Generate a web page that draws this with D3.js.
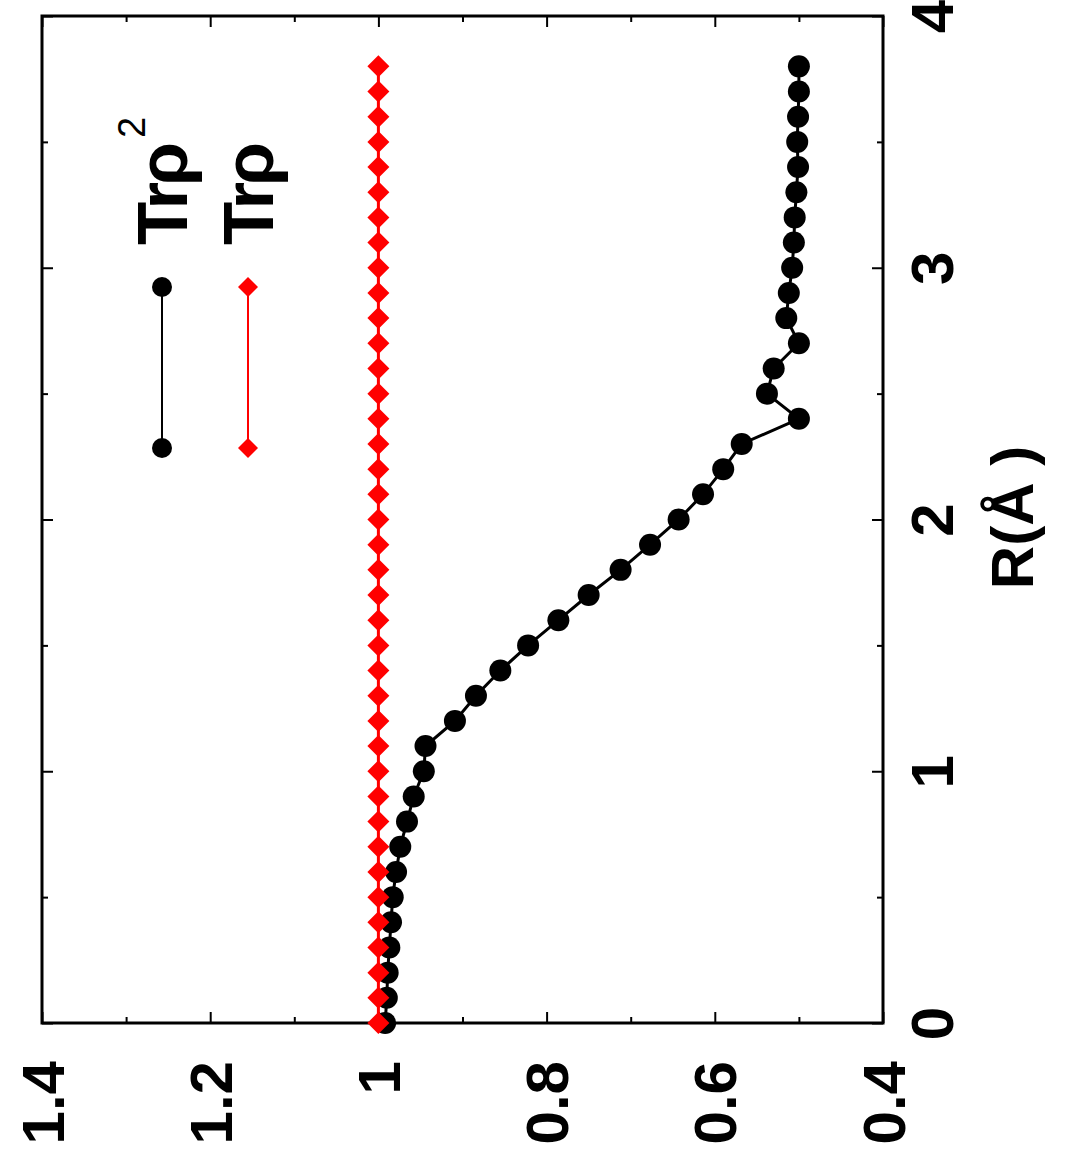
<!DOCTYPE html>
<html>
<head>
<meta charset="utf-8">
<script src="https://cdn.jsdelivr.net/npm/d3@7"></script>
<style>
  body { margin: 0; background: #fff; }
  svg { display: block; font-family: "Liberation Sans", Arial, sans-serif; }
  .axis text { font-size: 60px; font-weight: bold; fill: #000; }
  .axis line { stroke: #000; stroke-width: 2; }
  .axis path { display: none; }
  .legend text { font-size: 71px; font-weight: bold; fill: #000; letter-spacing: -4px; }
</style>
</head>
<body>
<svg id="chart" width="1077" height="1154"></svg>
<script>
// R in Angstrom
const rValues = [0, 0.1, 0.2, 0.3, 0.4, 0.5, 0.6, 0.7, 0.8, 0.9,
                 1.0, 1.1, 1.2, 1.3, 1.4, 1.5, 1.6, 1.7, 1.8, 1.9,
                 2.0, 2.1, 2.2, 2.3, 2.4, 2.5, 2.6, 2.7, 2.8, 2.9,
                 3.0, 3.1, 3.2, 3.3, 3.4, 3.5, 3.6, 3.7, 3.8];
const trRho2 = [0.992, 0.990, 0.989, 0.987, 0.985, 0.983, 0.979, 0.974, 0.966, 0.958,
                0.946, 0.944, 0.909, 0.884, 0.855, 0.822, 0.786, 0.750, 0.712, 0.677,
                0.643, 0.614, 0.590, 0.568, 0.500, 0.538, 0.530, 0.500, 0.515, 0.512,
                0.508, 0.506, 0.505, 0.503, 0.501, 0.502, 0.501, 0.500, 0.500];
const trRho = [1, 1, 1, 1, 1, 1, 1, 1, 1, 1,
               1, 1, 1, 1, 1, 1, 1, 1, 1, 1,
               1, 1, 1, 1, 1, 1, 1, 1, 1, 1,
               1, 1, 1, 1, 1, 1, 1, 1, 1];
const rTicks = [0, 1, 2, 3, 4];
const rMinorTicks = [0.5, 1.5, 2.5, 3.5];
const valueTicks = [0.4, 0.6, 0.8, 1, 1.2, 1.4];
const valueMinorTicks = [0.5, 0.7, 0.9, 1.1, 1.3];
const legendNames = ["Trρ", "Trρ"];
const legendSup = ["2", ""];
const colors = ["#000000", "#ff0000"];
const markers = ["circle", "diamond"];

const svg = d3.select("#chart");
const plotLeft = 42, plotRight = 883, plotTop = 16, plotBottom = 1023;

// the whole plot is turned on its side: R runs upward, values run leftward
const y = d3.scaleLinear().domain([0, 4]).range([plotBottom, plotTop]);
const x = d3.scaleLinear().domain([0.4, 1.4]).range([plotRight, plotLeft]);

const fmt = d => String(+d.toFixed(1));

// R axis (right) + mirror (left)
const rAxis = svg.append("g").attr("class", "axis")
  .attr("transform", `translate(${plotRight},0)`)
  .call(d3.axisRight(y).tickValues(rTicks).tickSize(-11).tickFormat(fmt));
rAxis.selectAll("text")
  .attr("x", null).attr("dy", null)
  .attr("text-anchor", "middle")
  .attr("transform", "translate(70,0) rotate(-90)");
svg.append("g").attr("class", "axis").attr("transform", `translate(${plotRight},0)`)
  .call(d3.axisRight(y).tickValues(rMinorTicks).tickSize(-6).tickFormat(""));
svg.append("g").attr("class", "axis").attr("transform", `translate(${plotLeft},0)`)
  .call(d3.axisLeft(y).tickValues(rTicks).tickSize(-11).tickFormat(""));
svg.append("g").attr("class", "axis").attr("transform", `translate(${plotLeft},0)`)
  .call(d3.axisLeft(y).tickValues(rMinorTicks).tickSize(-6).tickFormat(""));

// value axis (bottom) + mirror (top)
const vAxis = svg.append("g").attr("class", "axis")
  .attr("transform", `translate(0,${plotBottom})`)
  .call(d3.axisBottom(x).tickValues(valueTicks).tickSize(-11).tickFormat(fmt));
vAxis.selectAll("text")
  .attr("y", null).attr("dy", null)
  .attr("text-anchor", "end")
  .attr("transform", "translate(21,38) rotate(-90)");
svg.append("g").attr("class", "axis").attr("transform", `translate(0,${plotBottom})`)
  .call(d3.axisBottom(x).tickValues(valueMinorTicks).tickSize(-6).tickFormat(""));
svg.append("g").attr("class", "axis").attr("transform", `translate(0,${plotTop})`)
  .call(d3.axisTop(x).tickValues(valueTicks).tickSize(-11).tickFormat(""));
svg.append("g").attr("class", "axis").attr("transform", `translate(0,${plotTop})`)
  .call(d3.axisTop(x).tickValues(valueMinorTicks).tickSize(-6).tickFormat(""));

// axis title
svg.append("text")
  .attr("transform", `translate(1033,${y(2) - 2}) rotate(-90)`)
  .attr("text-anchor", "middle")
  .attr("font-size", 60).attr("font-weight", "bold")
  .text("R(Å )");

// frame
svg.append("rect")
  .attr("x", plotLeft).attr("y", plotTop)
  .attr("width", plotRight - plotLeft).attr("height", plotBottom - plotTop)
  .attr("fill", "none").attr("stroke", "#000").attr("stroke-width", 3);

const series = [trRho2, trRho].map(vals => rValues.map((r, i) => ({ r, v: vals[i] })));

const line = d3.line().x(d => x(d.v)).y(d => y(d.r));

function drawMarker(g, type, color, cx, cy, size) {
  if (type === "circle") {
    g.append("circle").attr("cx", cx).attr("cy", cy).attr("r", size).attr("fill", color);
  } else {
    g.append("path")
      .attr("d", `M${cx},${cy - size}L${cx + size},${cy}L${cx},${cy + size}L${cx - size},${cy}Z`)
      .attr("fill", color);
  }
}

series.forEach((data, k) => {
  const g = svg.append("g");
  g.append("path").datum(data)
    .attr("d", line)
    .attr("fill", "none")
    .attr("stroke", colors[k])
    .attr("stroke-width", 3);
  data.forEach(d => drawMarker(g, markers[k], colors[k], x(d.v), y(d.r), k === 0 ? 11 : 11));
});

// legend
const legendX = [162, 248];
const legendY1 = 287, legendY2 = 448;
legendNames.forEach((name, k) => {
  const g = svg.append("g").attr("class", "legend");
  g.append("line")
    .attr("x1", legendX[k]).attr("x2", legendX[k])
    .attr("y1", legendY1).attr("y2", legendY2)
    .attr("stroke", colors[k]).attr("stroke-width", 2);
  drawMarker(g, markers[k], colors[k], legendX[k], legendY1, 10);
  drawMarker(g, markers[k], colors[k], legendX[k], legendY2, 10);
  const t = g.append("text")
    .attr("transform", `translate(${legendX[k] + 25},245) rotate(-90)`)
    .text(name);
  if (legendSup[k]) {
    t.append("tspan")
      .attr("dx", 8).attr("dy", -42)
      .attr("font-size", 38).attr("font-weight", "normal")
      .text(legendSup[k]);
  }
});
</script>
</body>
</html>
